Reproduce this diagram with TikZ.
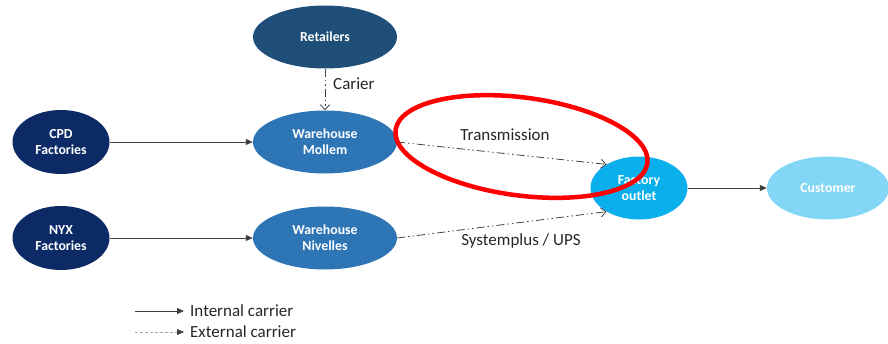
\documentclass[tikz,border=0pt]{standalone}
\usepackage{fontspec}
\setmainfont{Carlito}
\usetikzlibrary{shapes.geometric,arrows.meta}
\definecolor{cNavy}{HTML}{0C2A66}
\definecolor{cRetail}{HTML}{1F4E79}
\definecolor{cWare}{HTML}{2E75B6}
\definecolor{cOutlet}{HTML}{0AAFEC}
\definecolor{cCust}{HTML}{84D6F6}
\definecolor{cLine}{HTML}{404040}
\tikzset{
  blob/.style={ellipse, inner sep=0pt, text=white, font=\fontsize{13.8}{16}\selectfont\bfseries, align=center},
  wide/.style={blob, minimum width=144pt, minimum height=63pt},
  small/.style={blob, minimum width=97pt, minimum height=64pt},
  internal/.style={draw=cLine, line width=0.8pt, -{Triangle[length=7pt,width=6pt]}},
  external/.style={draw=cLine, line width=0.8pt, dash pattern=on 8pt off 3pt on 1.5pt off 3pt on 1.5pt off 3pt, -{Straight Barb[length=5pt,width=9pt]}},
  lbl/.style={font=\fontsize{17}{20}\selectfont, text=black!85, inner sep=0pt},
}
\begin{document}
\begin{tikzpicture}[x=1pt,y=-1pt]
\useasboundingbox (0,0) rectangle (888,343);
\node[wide, fill=cRetail] (ret) at (325,37) {Retailers};
\node[small, fill=cNavy] (cpd) at (61,142) {CPD\\Factories};
\node[small, fill=cNavy] (nyx) at (61,238) {NYX\\Factories};
\node[wide, fill=cWare] (mol) at (325,142) {Warehouse\\Mollem};
\node[wide, fill=cWare] (niv) at (325,238) {Warehouse\\Nivelles};
\node[small, fill=cOutlet, minimum height=63pt] (out) at (639,188) {Factory\\outlet};
\node[wide, fill=cCust, minimum width=122pt] (cus) at (828,188) {Customer};

\draw[internal] (cpd) -- (mol);
\draw[internal] (nyx) -- (niv);
\draw[internal] (out) -- (cus);
\draw[external] (ret) -- (mol);
\draw[external] (mol.east) -- (out.144);
\draw[external] (niv.east) -- (out.216);

\node[lbl, anchor=west] (lcar) at (333,84) {Carier};
\node[lbl] (ltr) at (505,135) {Transmission};
\node[lbl] (lsys) at (521,241) {Systemplus / UPS};

\node[draw=red, line width=4.5pt, ellipse, minimum width=254pt, minimum height=98pt, inner sep=0pt, rotate=-7.5] (hl) at (521.5,146.5) {};

\coordinate (l1a) at (135,311);
\coordinate (l1b) at (184,311);
\coordinate (l2a) at (135,332);
\coordinate (l2b) at (184,332);
\draw[internal] (l1a) -- (l1b);
\draw[draw=black!35, line width=0.8pt, dash pattern=on 3pt off 2pt] (l2a) -- ([xshift=-6pt]l2b);
\draw[draw=cLine, -{Triangle[length=7pt,width=6pt]}] ([xshift=-6pt]l2b) -- (l2b);
\node[lbl, anchor=west] (leg1) at (190,311) {Internal carrier};
\node[lbl, anchor=west] (leg2) at (190,332) {External carrier};
\end{tikzpicture}
\end{document}
